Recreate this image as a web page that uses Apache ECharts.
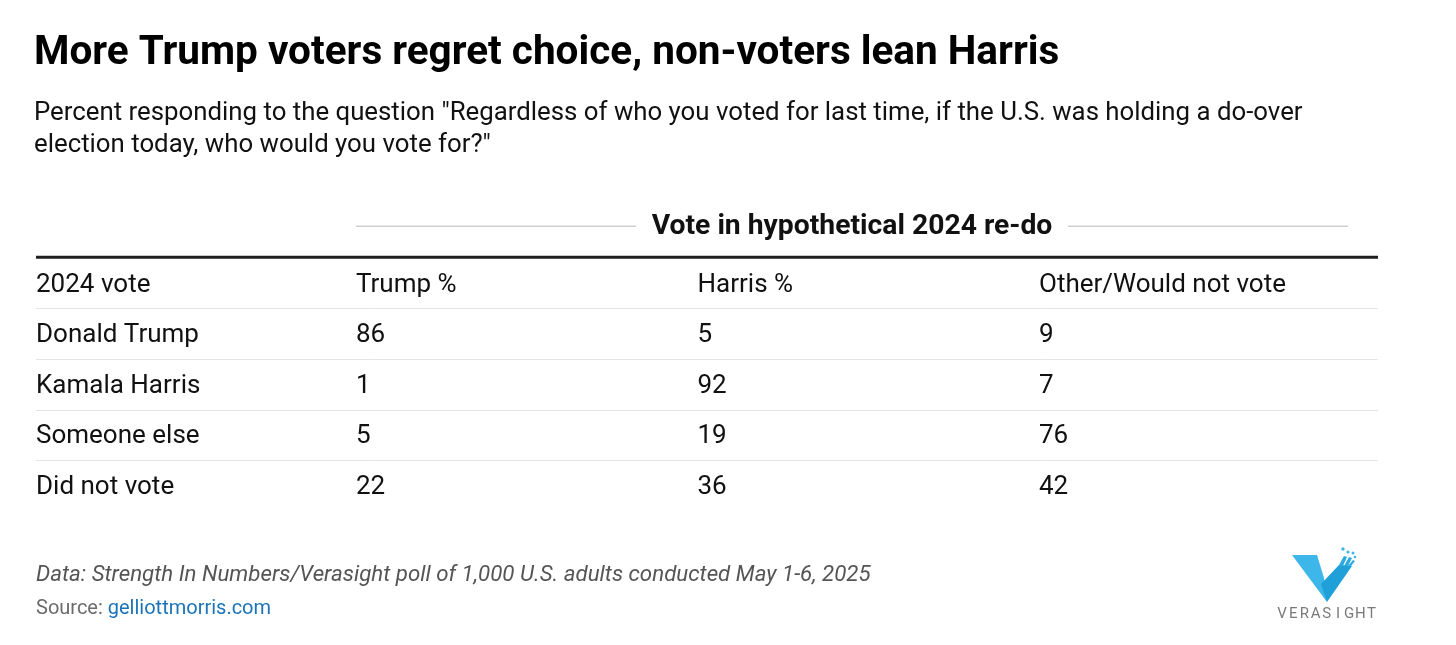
<!DOCTYPE html>
<html>
<head>
<meta charset="utf-8">
<script src="https://cdn.jsdelivr.net/npm/echarts@6/dist/echarts.min.js"></script>
<style>
html,body{margin:0;padding:0;background:#fff;}
#main{width:1456px;height:645px;}
</style>
</head>
<body>
<div id="main"></div>
<script>
// ---- data ----
const titleText = 'More Trump voters regret choice, non-voters lean Harris';
const subtitleText = 'Percent responding to the question "Regardless of who you voted for last time, if the U.S. was holding a do-over\nelection today, who would you vote for?"';
const spannerText = 'Vote in hypothetical 2024 re-do';
const rowHeader = '2024 vote';
const colHeaders = ['Trump %', 'Harris %', 'Other/Would not vote'];
const rows = ['Donald Trump', 'Kamala Harris', 'Someone else', 'Did not vote'];
const trumpPct = [86, 1, 5, 22];
const harrisPct = [5, 92, 19, 36];
const otherPct = [9, 7, 76, 42];
const noteText = 'Data: Strength In Numbers/Verasight poll of 1,000 U.S. adults conducted May 1-6, 2025';
const sourceLabel = 'Source: ';
const sourceLink = 'gelliottmorris.com';
const logoText = 'VERASIGHT';

// ---- layout ----
const FONT = 'Roboto, "Noto Sans", sans-serif';
const TEXT = '#111111';
const BODY = 26;
const GRID_L = 36, GRID_R = 78, GRID_T = 310, GRID_B = 132;
const RULE_SHIFT = -2;
// x axis: columns 1..3 map to 356, 697, 1039 px; left edge is the row-label column
const COL_STEP = 341.5;
const XMIN = 1 - (356 - GRID_L) / COL_STEP;
const XMAX = XMIN + (1456 - GRID_L - GRID_R) / COL_STEP;

const colValues = [trumpPct, harrisPct, otherPct];

const chart = echarts.init(document.getElementById('main'), null, {renderer: 'canvas'});

const cellSeries = colValues.map(function (vals, c) {
  return {
    type: 'scatter',
    name: colHeaders[c],
    symbolSize: 0,
    itemStyle: {color: '#ffffff', opacity: 1},
    silent: true,
    data: rows.map(function (r, i) { return [c + 1, r, vals[i]]; }),
    encode: {x: 0, y: 1},
    label: {
      show: true,
      position: 'right',
      distance: 0,
      opacity: 1,
      textBorderWidth: 0,
      formatter: function (p) { return String(p.value[2]); },
      fontFamily: FONT,
      fontSize: BODY,
      color: TEXT
    }
  };
});

const rulesSeries = {
  type: 'custom',
  silent: true,
  clip: false,
  data: rows.map(function (r, i) { return [XMIN, r]; }),
  encode: {x: 0, y: 1},
  renderItem: function (params, api) {
    const cs = params.coordSys;
    const pt = api.coord([XMIN, api.value(1)]);
    const band = api.size([0, 1])[1];
    const yTop = Math.round(pt[1] - band / 2 + RULE_SHIFT) + 0.5;
    const children = [{
      type: 'line',
      shape: {x1: cs.x, y1: yTop, x2: cs.x + cs.width, y2: yTop},
      style: {stroke: '#e4e4e4', lineWidth: 1}
    }];
    if (params.dataIndex === 0) {
      const yThick = pt[1] - band * 1.5 + RULE_SHIFT;
      children.push({
        type: 'line',
        shape: {x1: cs.x, y1: yThick, x2: cs.x + cs.width, y2: yThick},
        style: {stroke: '#1e1e1e', lineWidth: 3}
      });
      const ySpan = yThick - 31;
      const xStart = api.coord([1, api.value(1)])[0];
      const xEnd = cs.x + cs.width - 30;
      const xMid = (xStart + xEnd) / 2;
      const half = 216;
      children.push({
        type: 'line',
        shape: {x1: xStart, y1: ySpan, x2: xMid - half, y2: ySpan},
        style: {stroke: '#cfcfcf', lineWidth: 1.5}
      });
      children.push({
        type: 'line',
        shape: {x1: xMid + half, y1: ySpan, x2: xEnd, y2: ySpan},
        style: {stroke: '#cfcfcf', lineWidth: 1.5}
      });
      children.push({
        type: 'text',
        style: {
          text: spannerText, x: xMid, y: ySpan + 1,
          align: 'center', verticalAlign: 'middle',
          font: 'bold 28.3px ' + FONT, fill: TEXT
        }
      });
    }
    return {type: 'group', children: children};
  }
};

// logo letters
const logoChildren = [];
const logoX0 = 1278, logoStep = 11.2;
for (let i = 0; i < logoText.length; i++) {
  logoChildren.push({
    type: 'text',
    style: {
      text: logoText[i], x: logoX0 + i * logoStep + 4, y: 614,
      align: 'center', verticalAlign: 'middle',
      font: '15px ' + FONT, fill: '#7a7a7a'
    }
  });
}

const option = {
  backgroundColor: '#ffffff',
  animation: false,
  title: {
    text: titleText,
    subtext: subtitleText,
    left: 34,
    top: 31,
    padding: 0,
    itemGap: 21,
    textStyle: {fontFamily: FONT, fontSize: 40.5, fontWeight: 'bold', color: '#000', lineHeight: 46},
    subtextStyle: {fontFamily: FONT, fontSize: 25.8, color: TEXT, lineHeight: 32}
  },
  grid: {left: GRID_L, right: GRID_R, top: GRID_T, bottom: GRID_B},
  xAxis: {
    type: 'value',
    position: 'top',
    min: XMIN,
    max: XMAX,
    axisLine: {show: false},
    axisTick: {show: false},
    splitLine: {show: false},
    axisLabel: {
      customValues: [XMIN, 1, 2, 3],
      showMinLabel: true,
      showMaxLabel: true,
      hideOverlap: false,
      align: 'left',
      margin: 12,
      lineHeight: 26,
      fontFamily: FONT,
      fontSize: BODY,
      color: TEXT,
      formatter: function (v) {
        if (v < 0.5) return rowHeader;
        return colHeaders[Math.round(v) - 1] || '';
      }
    }
  },
  yAxis: {
    type: 'category',
    inverse: true,
    data: rows,
    axisLine: {show: false},
    axisTick: {show: false},
    splitLine: {show: false},
    axisLabel: {
      inside: true,
      margin: 0,
      align: 'left',
      fontFamily: FONT,
      fontSize: BODY,
      color: TEXT
    }
  },
  series: cellSeries.concat([rulesSeries]),
  graphic: [
    {
      type: 'text',
      left: 36, top: 564,
      style: {
        text: noteText,
        font: 'italic 22.3px ' + FONT,
        fill: '#555555'
      }
    },
    {
      type: 'text',
      left: 36, top: 599,
      style: {
        text: '{a|' + sourceLabel + '}{b|' + sourceLink + '}',
        rich: {
          a: {fontFamily: FONT, fontSize: 20, fill: '#6b6b6b'},
          b: {fontFamily: FONT, fontSize: 20, fill: '#1b74b8'}
        }
      }
    },
    {
      type: 'group',
      children: [
        {
          type: 'polygon',
          shape: {points: [[1292, 555], [1317, 555], [1324, 578], [1327, 602]]},
          style: {fill: '#3db7e9'}
        },
        {
          type: 'polygon',
          shape: {points: [[1327, 602], [1321, 584], [1339, 565], [1352, 566]]},
          style: {fill: '#1fa0d8'}
        },
        {
          type: 'polygon',
          shape: {points: [[1339, 565], [1344, 556], [1347, 557], [1343, 566]]},
          style: {fill: '#2aaae0'}
        },
        {
          type: 'polygon',
          shape: {points: [[1344, 566], [1349, 557], [1352, 558], [1348, 566]]},
          style: {fill: '#2aaae0'}
        },
        {
          type: 'polygon',
          shape: {points: [[1348, 566], [1353, 560], [1355, 561], [1351, 566]]},
          style: {fill: '#2aaae0'}
        },
        {type: 'circle', shape: {cx: 1343, cy: 549, r: 1.7}, style: {fill: '#3db7e9'}},
        {type: 'circle', shape: {cx: 1348, cy: 552, r: 1.6}, style: {fill: '#3db7e9'}},
        {type: 'circle', shape: {cx: 1353, cy: 553, r: 1.5}, style: {fill: '#3db7e9'}},
        {type: 'circle', shape: {cx: 1355, cy: 557, r: 1.3}, style: {fill: '#3db7e9'}}
      ].concat(logoChildren)
    }
  ]
};

chart.setOption(option);
</script>
</body>
</html>
